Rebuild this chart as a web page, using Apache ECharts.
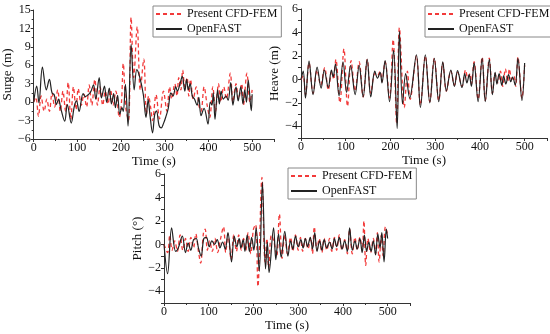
<!DOCTYPE html>
<html><head><meta charset="utf-8">
<script src="https://cdn.jsdelivr.net/npm/echarts@6/dist/echarts.min.js"></script>
<style>html,body{margin:0;padding:0;background:#fff}#c{width:550px;height:334px}</style>
</head><body><div id="c"></div>
<script>
// Time (s) / value pairs
const surgeFEM = [[0,0],[5,0.8],[11,-2.3],[17,1.0],[24,-1.5],[30,0.5],[36,-1.5],[42,1.5],[48,-0.8],[55,2.0],[61,-1.5],[67,1.8],[73,-1.5],[79,3.2],[85,-2.8],[91,2.5],[97,-1.2],[102,2.2],[109,-0.5],[115,1.3],[121,-0.8],[127,2.8],[133,-0.5],[140,3.7],[146,-0.5],[152,2.5],[158,-0.5],[164,1.8],[170,-0.3],[176,2.0],[182,-0.5],[188,1.8],[196,-2.5],[201,0],[205,6.3],[211,-1.0],[217,-3.0],[223,13.8],[229,4.0],[237,12.3],[244,2.0],[252,7.0],[258,-2.0],[263,1.0],[268,-1.0],[272,-3.0],[280,1.2],[288,-2.7],[297,1.8],[305,-1.5],[311,2.5],[316,0.5],[323,3.0],[328,1.0],[332,4.0],[337,2.0],[341,5.2],[346,2.5],[351,4.0],[355,1.0],[359,3.7],[365,0.5],[372,2.5],[378,-0.5],[383,-1.5],[390,2.5],[397,-0.5],[403,-2.5],[410,2.5],[416,-1.5],[423,3.0],[428,0],[435,2.5],[441,0.5],[450,4.7],[456,0],[463,3.0],[469,0.5],[476,3.0],[480,-0.5],[488,4.7],[495,0],[500,2.0]];
const surgeOF = [[0,0],[7,2.6],[12,-0.1],[20,5.7],[29,2.0],[36,3.7],[42,1.5],[47,1.2],[52,-0.4],[57,0.5],[62,-1.0],[71,-3.1],[77,-0.4],[86,-3.4],[93,-0.7],[98,0.2],[104,-1.5],[113,1.4],[118,0.9],[123,1.1],[130,1.6],[137,2.8],[142,0.5],[150,4.0],[155,0.7],[162,2.6],[167,0.0],[173,2.3],[178,-0.3],[183,1.4],[187,-0.9],[192,1.1],[197,-2.0],[202,-0.9],[205,-1.5],[210,2.9],[216,-3.9],[223,9.4],[230,2.0],[236,5.3],[243,4.0],[251,1.2],[257,-2.5],[262,0.4],[266,-2.0],[272,-5.0],[277,-2.0],[281,-1.4],[287,-3.8],[292,-4.2],[297,-3.5],[302,-2.5],[308,-1.0],[314,1.5],[319,1.0],[325,2.5],[329,1.8],[335,3.0],[340,4.2],[346,1.8],[350,3.7],[354,2.0],[358,3.0],[363,1.0],[368,0.5],[374,-0.5],[378,0.8],[383,-2.2],[390,-1.0],[399,-3.6],[404,0.0],[408,-0.5],[411,1.5],[415,-2.8],[421,2.0],[425,-0.3],[429,1.8],[434,0.5],[440,1.0],[445,0.3],[451,3.2],[456,-0.5],[463,2.5],[468,0.2],[474,2.5],[479,-0.3],[483,2.0],[487,0.0],[491,3.6],[498,-1.4],[500,1.3]];
const heaveFEM = [[0,0],[5,0.3],[10,-1.3],[18,1.4],[27,-1.2],[36,0.8],[44,-0.5],[53,1.0],[61,-0.9],[69,0.7],[73,0.0],[78,1.7],[87,-2.0],[96,2.6],[104,-2.3],[112,1.6],[121,-1.0],[130,1.5],[139,-1.5],[148,1.7],[156,-1.2],[165,0.5],[171,0.3],[177,0.7],[181,-0.2],[188,1.5],[198,-1.6],[206,3.4],[214,-3.8],[220,4.4],[231,-2.4],[238,0.7],[244,-1.7],[258,2.0],[267,-2.2],[278,2.0],[288,-1.9],[298,1.8],[308,-1.8],[317,1.4],[325,-1.0],[335,0.7],[343,-0.5],[350,0.6],[360,-0.6],[368,0.8],[373,0.1],[378,0.5],[381,-0.4],[387,1.5],[396,-1.7],[405,1.9],[412,-1.8],[421,1.8],[428,-1.2],[434,0.5],[440,-0.3],[446,0.7],[451,-0.6],[457,0.9],[462,-0.2],[466,0.9],[471,0],[476,0.3],[480,-0.6],[485,1.9],[494,-1.6],[500,1.2]];
const heaveOF = [[0,0],[5,0.7],[10,-1.6],[18,1.55],[27,-1.3],[36,1.05],[45,-0.75],[52,0.8],[61,-0.7],[68,0.8],[72,0.2],[77,1.3],[85,-1.4],[94,1.5],[102,-1.1],[111,1.2],[121,-1.3],[130,1.2],[139,-1.5],[148,1.7],[156,-1.5],[165,0.7],[171,0.1],[177,0.6],[181,-0.3],[188,1.6],[198,-1.9],[207,2.5],[215,-4.2],[220,4.1],[227,-2.1],[234,0.5],[243,-1.6],[258,2.1],[267,-2.4],[278,2.1],[288,-2.0],[298,1.8],[308,-1.9],[317,1.5],[325,-1.0],[335,0.8],[343,-0.6],[350,0.75],[360,-0.7],[366,0.5],[371,-0.3],[376,0.4],[381,-0.6],[387,1.4],[396,-1.9],[405,1.8],[412,-1.9],[421,1.7],[428,-1.3],[434,0.6],[438,-0.4],[443,0.5],[449,-0.5],[453,0.3],[458,-0.4],[464,0.4],[469,-0.2],[473,0.2],[479,-0.5],[485,1.8],[494,-1.8],[500,1.4]];
const pitchFEM = [[0,0],[8,-0.7],[13,0.8],[18,-0.5],[24,0.3],[30,-0.6],[36,0.8],[42,-0.5],[48,0.5],[54,-0.6],[60,0.6],[66,-0.3],[71,0.9],[77,-0.6],[82,-1.6],[88,0.9],[92,1.3],[97,-0.5],[102,0.3],[108,-0.6],[114,0.5],[120,-0.7],[126,0.4],[133,1.5],[138,-0.7],[143,0.9],[150,-1.3],[156,0.8],[162,-0.6],[167,0.8],[173,-0.5],[178,0.5],[183,-0.5],[188,1.0],[194,-0.8],[200,1.3],[205,1.7],[210,-3.6],[219,5.7],[226,-1.5],[230,0.5],[234,-2.0],[240,0.8],[246,0.2],[252,-1.0],[258,2.6],[264,-1.2],[270,0.8],[276,-0.8],[283,0.6],[288,-0.6],[294,0.8],[300,-0.5],[305,0.6],[310,-0.6],[316,0.5],[322,-0.4],[328,0.6],[332,-0.8],[336,1.5],[342,-0.5],[347,0.5],[353,-0.7],[358,0.5],[364,-0.5],[370,0.5],[375,-0.6],[381,0.6],[386,-0.5],[392,0.8],[398,-0.5],[404,0.4],[410,-0.8],[415,1.3],[421,-0.8],[427,0.6],[432,-0.5],[438,0.6],[443,-0.5],[447,2.0],[451,-1.8],[456,0.5],[462,-0.7],[468,0.5],[473,-0.8],[477,1.0],[481,-1.5],[486,0.8],[490,-1.0],[495,1.5],[500,0.8]];
const pitchOF = [[0,0],[8,-2.5],[17,1.4],[26,-0.6],[32,-0.3],[41,0.7],[48,-0.7],[54,0.1],[60,-0.5],[66,0.4],[72,0.5],[77,-0.3],[83,-1.0],[89,0.5],[95,0.6],[101,-0.2],[107,0.3],[113,0],[119,0.4],[125,-0.3],[131,0.2],[137,-0.4],[143,1.0],[151,-1.5],[157,0.7],[163,-0.2],[168,0.5],[172,-0.3],[177,0.4],[181,-0.6],[186,0.8],[191,-0.6],[196,0.6],[201,-0.5],[206,1.4],[213,-2.3],[220,5.3],[227,-2.1],[231,0.2],[235,-2.4],[245,1.4],[250,-1.3],[256,0.9],[262,-1.1],[270,1.1],[277,-1.0],[283,0.3],[288,-0.4],[294,0.7],[300,-0.2],[306,0.4],[311,-0.3],[316,0.5],[321,-0.2],[327,0.6],[332,-0.4],[337,1.0],[342,-0.6],[348,0.3],[353,-0.5],[358,0.4],[364,-0.3],[370,0.2],[376,-0.4],[381,0.5],[386,-0.2],[392,0.6],[398,-0.4],[404,0.3],[410,-0.6],[415,1.4],[421,-0.5],[427,0.3],[432,-0.4],[438,0.5],[443,-0.7],[448,0.8],[453,-0.6],[458,0.2],[463,-0.6],[468,0.3],[473,-0.9],[478,0.9],[483,-0.3],[487,1.0],[492,-1.5],[497,1.3],[500,0.5]];

const xTitle = 'Time (s)';
const yTitles = ['Surge (m)', 'Heave (m)', 'Pitch (°)'];
const seriesNames = ['Present CFD-FEM', 'OpenFAST'];
const xLabels = [0, 100, 200, 300, 400, 500];
const hpLabels = [-4, -2, 0, 2, 4, 6];

const FONT = 'Liberation Serif';
const axisCol = '#333';
const grids = [
  {left: 30, top: 10, width: 244, height: 129},
  {left: 301, top: 9, width: 246, height: 129},
  {left: 164, top: 174, width: 246, height: 129}
];
const fmt = v => (v < 0 ? '\u2212' + Math.abs(v) : '' + v);
function xAx(i) {
  return {
    type: 'value', gridIndex: i, min: 0, max: 550, interval: 100,
    name: xTitle, nameLocation: 'middle', nameGap: 15,
    nameTextStyle: {fontFamily: FONT, fontSize: 13, color: '#111'},
    axisLine: {show: true, onZero: false, lineStyle: {color: axisCol, width: 1}},
    axisTick: {show: true, length: 3, lineStyle: {color: axisCol}},
    minorTick: {show: true, splitNumber: 2, length: 2, lineStyle: {color: axisCol}},
    axisLabel: {fontFamily: FONT, fontSize: 12, color: '#111', margin: 3, customValues: xLabels},
    splitLine: {show: false}
  };
}
function yAx(i, opts) {
  return Object.assign({
    type: 'value', gridIndex: i,
    name: yTitles[i], nameLocation: 'middle', nameGap: 18,
    nameTextStyle: {fontFamily: FONT, fontSize: 13, color: '#111'},
    axisLine: {show: true, onZero: false, lineStyle: {color: axisCol, width: 1}},
    splitLine: {show: false}
  }, opts);
}
const hpTicks = {show: true, length: 3, customValues: [-5,-4,-3,-2,-1,0,1,2,3,4,5,6], lineStyle: {color: axisCol}};
const yAxes = [
  yAx(0, {min: -6, max: 15, interval: 3,
    axisTick: {show: true, length: 3, lineStyle: {color: axisCol}},
    minorTick: {show: true, splitNumber: 2, length: 2, lineStyle: {color: axisCol}},
    axisLabel: {fontFamily: FONT, fontSize: 12, color: '#111', margin: 3, formatter: fmt}}),
  yAx(1, {min: -5, max: 6, axisTick: hpTicks,
    axisLabel: {fontFamily: FONT, fontSize: 12, color: '#111', margin: 3, customValues: hpLabels, formatter: fmt}}),
  yAx(2, {min: -5, max: 6, axisTick: hpTicks,
    axisLabel: {fontFamily: FONT, fontSize: 12, color: '#111', margin: 3, customValues: hpLabels, formatter: fmt}})
];
const femData = [surgeFEM, heaveFEM, pitchFEM];
const ofData = [surgeOF, heaveOF, pitchOF];
const series = [];
for (let i = 0; i < 3; i++) {
  series.push({
    name: seriesNames[0], type: 'line', xAxisIndex: i, yAxisIndex: i,
    data: femData[i], smooth: 0.35, symbol: 'none', z: 2,
    lineStyle: {color: '#f23a3a', width: 1.3, type: [4, 3]},
    itemStyle: {color: '#f23a3a'}
  });
  series.push({
    name: seriesNames[1], type: 'line', xAxisIndex: i, yAxisIndex: i,
    data: ofData[i], smooth: 0.35, symbol: 'none', z: 3,
    lineStyle: {color: '#222', width: 1.2},
    itemStyle: {color: '#222'}
  });
}
const legendPos = [{left: 153, top: 6}, {left: 425, top: 6}, {left: 288, top: 168}];
const legends = legendPos.map(p => ({
  left: p.left, top: p.top, orient: 'vertical', data: seriesNames,
  itemWidth: 26, itemHeight: 10, itemGap: 3, padding: [2, 4, 2, 2],
  borderColor: '#888', borderWidth: 1, selectedMode: false,
  itemStyle: {opacity: 0},
  textStyle: {fontFamily: FONT, fontSize: 12, color: '#111'}
}));
const chart = echarts.init(document.getElementById('c'), null, {renderer: 'canvas'});
chart.setOption({
  animation: false,
  backgroundColor: '#fff',
  grid: grids,
  xAxis: [xAx(0), xAx(1), xAx(2)],
  yAxis: yAxes,
  legend: legends,
  series: series
});
</script></body></html>
